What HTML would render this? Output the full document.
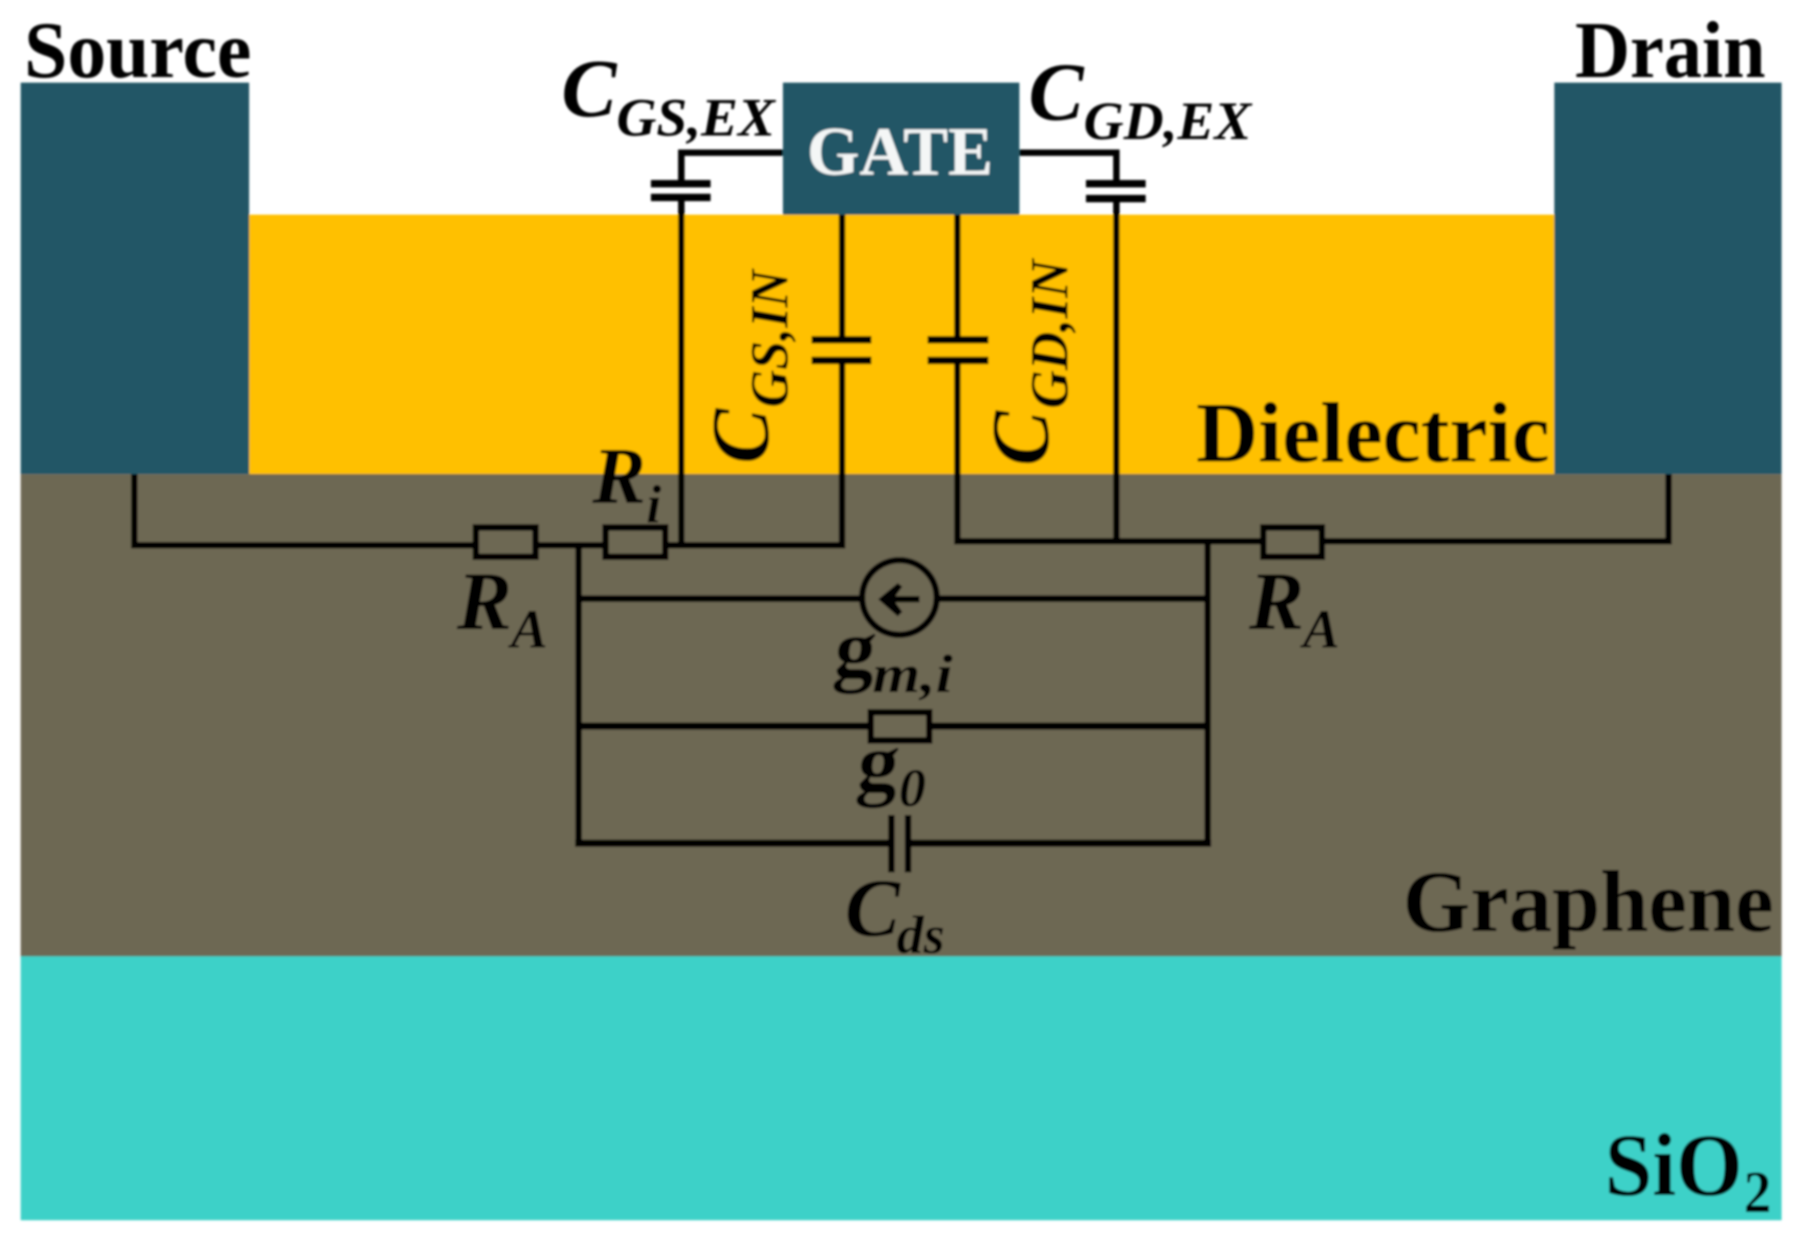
<!DOCTYPE html>
<html>
<head>
<meta charset="utf-8">
<style>
html,body{margin:0;padding:0;background:#fff;}
svg{display:block;}
text{font-family:"Liberation Serif",serif;font-weight:bold;fill:#050505;}
.i{font-style:italic;}
.w{fill:none;stroke:#050504;stroke-width:5.6;stroke-linejoin:miter;}
.t{fill:none;stroke:#050504;stroke-width:6.2;stroke-linejoin:miter;}
.p{fill:none;stroke:#050504;stroke-width:6.4;}
</style>
</head>
<body>
<svg width="1800" height="1237" viewBox="0 0 1568 1077.6" xmlns="http://www.w3.org/2000/svg">
<defs>
<filter id="b" x="-5%" y="-5%" width="110%" height="110%"><feGaussianBlur stdDeviation="1"/></filter>
</defs>
<rect width="1568" height="1078" fill="#fff"/>
<g filter="url(#b)">
<rect x="217" y="187" width="1137" height="227" fill="#FFC000"/>
<rect x="18" y="413" width="1534" height="421" fill="#6D6753"/>
<rect x="18" y="833" width="1534" height="230" fill="#3ED1C8"/>
<rect x="18" y="72" width="199" height="341" fill="#225766"/>
<rect x="1354" y="72" width="198" height="341" fill="#225766"/>
<rect x="682" y="72" width="206" height="115" fill="#225766"/>

<!-- source side wiring -->
<path class="w" d="M117,413 V475 H414 M466,475 H527 M579,475 H733.5 V314 M733.5,296 V187"/>
<path class="w" d="M593.5,475 V172 M593.5,160 V133 H682"/>
<path class="p" d="M707,296 H759 M707,314 H759 M567,160 H619 M567,172 H619"/>
<rect class="w" x="414.5" y="459.5" width="52" height="25.5"/>
<rect class="w" x="527.5" y="459.5" width="52" height="25.5"/>

<!-- drain side wiring -->
<path class="w" d="M1453.5,413 V471.5 H1152 M1099,471.5 H834 V314 M834,296 V187"/>
<path class="w" d="M972.5,471.5 V173 M972.5,160 V133 H888"/>
<path class="p" d="M808,296 H861 M808,314 H861 M946,160 H998 M946,173 H998"/>
<rect class="w" x="1100.5" y="459.5" width="51" height="25.5"/>

<!-- channel -->
<path class="w" d="M504,475 V735 M1052,735 V471.5"/>
<path class="w" d="M504,521.5 H750 M816,521.5 H1052"/>
<path class="t" d="M504,632.5 H758 M810,632.5 H1052"/>
<path class="t" d="M501,734.5 H777 M791,734.5 H1055"/>
<rect class="w" x="758.5" y="620.5" width="51" height="24.5"/>
<path class="w" d="M776.5,710 V760 M791,710 V760"/>
<ellipse class="w" cx="783.5" cy="520.5" rx="32.5" ry="32.5"/>
<path class="w" d="M801,522 H776"/>
<path d="M765,522 L782,508 L786,511 L778,522 L786,533 L782,537 Z" fill="#050504"/>

<!-- labels -->
<text x="21" y="67" font-size="70" textLength="198" lengthAdjust="spacingAndGlyphs">Source</text>
<text x="1372" y="67" font-size="70" textLength="166" lengthAdjust="spacingAndGlyphs">Drain</text>
<text x="1042" y="402" font-size="75" textLength="308" lengthAdjust="spacingAndGlyphs">Dielectric</text>
<text x="1222" y="811" font-size="77" textLength="323" lengthAdjust="spacingAndGlyphs">Graphene</text>
<text x="1398" y="1041" font-size="78" textLength="120" lengthAdjust="spacingAndGlyphs">SiO</text>
<text x="1519" y="1056" font-size="52" textLength="24" lengthAdjust="spacingAndGlyphs">2</text>
<text x="703" y="152" font-size="60" textLength="162" lengthAdjust="spacingAndGlyphs" style="fill:#f4f6f6">GATE</text>

<text class="i" x="489" y="101" font-size="72">C</text>
<text class="i" x="537" y="118" font-size="47" textLength="138" lengthAdjust="spacingAndGlyphs">GS,EX</text>
<text class="i" x="896" y="104" font-size="72">C</text>
<text class="i" x="944" y="121" font-size="47" textLength="146" lengthAdjust="spacingAndGlyphs">GD,EX</text>

<text class="i" font-size="72" transform="translate(669,404) rotate(-90)">C</text>
<text class="i" font-size="47" transform="translate(686,355) rotate(-90)" textLength="120" lengthAdjust="spacingAndGlyphs">GS,IN</text>
<text class="i" font-size="72" transform="translate(913,406) rotate(-90)">C</text>
<text class="i" font-size="47" transform="translate(930,356) rotate(-90)" textLength="130" lengthAdjust="spacingAndGlyphs">GD,IN</text>

<text class="i" x="516" y="438" font-size="70">R</text>
<text class="i" x="563" y="455" font-size="47">i</text>
<text class="i" x="398" y="548" font-size="72">R</text>
<text class="i" x="445" y="564" font-size="48">A</text>
<text class="i" x="1088" y="548" font-size="72">R</text>
<text class="i" x="1135" y="564" font-size="48">A</text>
<text font-size="72" transform="translate(725,589) skewX(-6)">g</text>
<text class="i" x="760" y="603" font-size="47" textLength="70" lengthAdjust="spacingAndGlyphs">m,i</text>
<text font-size="72" transform="translate(745,688) skewX(-6)">g</text>
<text class="i" x="783" y="702" font-size="47">0</text>
<text class="i" x="736" y="815" font-size="72">C</text>
<text class="i" x="781" y="830" font-size="47" textLength="42" lengthAdjust="spacingAndGlyphs">ds</text>
</g>
</svg>
</body>
</html>
